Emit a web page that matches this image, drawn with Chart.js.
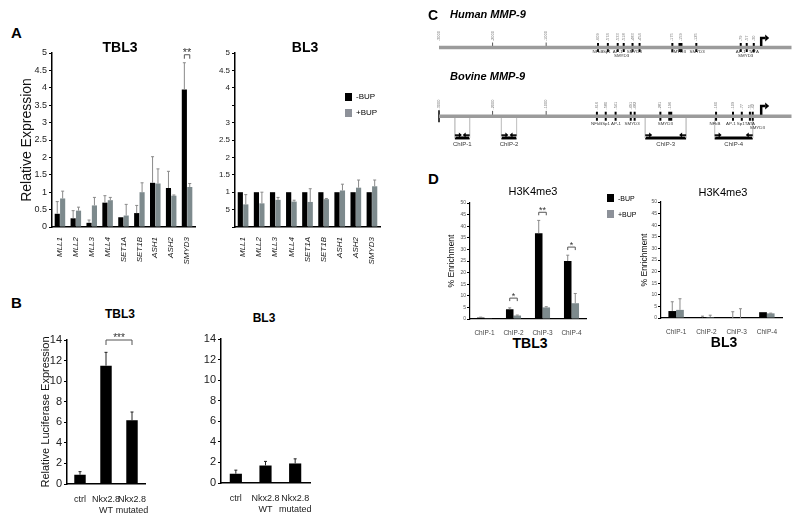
<!DOCTYPE html>
<html>
<head>
<meta charset="utf-8">
<script src="https://cdn.jsdelivr.net/npm/chart.js@4.4.1/dist/chart.umd.min.js"></script>
<style>
body{margin:0;width:800px;height:518px;background:#fff;position:relative;overflow:hidden;font-family:'Liberation Sans',Arial,sans-serif}
.box{position:absolute}
.t{position:absolute;white-space:nowrap;color:#000;line-height:1}
.c{transform:translateX(-50%)}
.L{font:bold 15px 'Liberation Sans',Arial,sans-serif}
.sq{position:absolute;width:7px;height:8px}
</style>
</head>
<body>
<canvas id="aTbl" class="box" width="200" height="230" style="left:0;top:45px"></canvas>
<canvas id="aBl" class="box" width="190" height="230" style="left:200px;top:45px"></canvas>
<canvas id="bTbl" class="box" width="160" height="188" style="left:0;top:330px"></canvas>
<canvas id="bBl" class="box" width="140" height="188" style="left:190px;top:330px"></canvas>
<canvas id="cHum" class="box" width="370" height="55" style="left:430px;top:20px"></canvas>
<canvas id="cBov" class="box" width="370" height="80" style="left:430px;top:86px"></canvas>
<canvas id="dTbl" class="box" width="160" height="140" style="left:430px;top:195px"></canvas>
<canvas id="dBl" class="box" width="170" height="140" style="left:630px;top:195px"></canvas>

<div class="t L" style="left:11px;top:24px">A</div>
<div class="t c" style="left:120px;top:40px;font-weight:bold;font-size:14px">TBL3</div>
<div class="t c" style="left:305px;top:40px;font-weight:bold;font-size:14px">BL3</div>
<div class="sq" style="left:345px;top:93px;background:#000"></div>
<div class="t" style="left:356px;top:93px;font-size:8px">-BUP</div>
<div class="sq" style="left:345px;top:109px;background:#8d9199"></div>
<div class="t" style="left:356px;top:109px;font-size:8px">+BUP</div>

<div class="t L" style="left:11px;top:294px">B</div>
<div class="t c" style="left:120px;top:308px;font-weight:bold;font-size:12px">TBL3</div>
<div class="t c" style="left:264px;top:312px;font-weight:bold;font-size:12px">BL3</div>

<div class="t L" style="left:428px;top:7px;font-size:14px">C</div>
<div class="t" style="left:450px;top:9px;font-weight:bold;font-style:italic;font-size:11px">Human MMP-9</div>
<div class="t" style="left:450px;top:71px;font-weight:bold;font-style:italic;font-size:11px">Bovine MMP-9</div>

<div class="t L" style="left:428px;top:170px">D</div>
<div class="t c" style="left:533px;top:186px;font-size:11px">H3K4me3</div>
<div class="t c" style="left:723px;top:187px;font-size:11px">H3K4me3</div>
<div class="t c" style="left:530px;top:336px;font-weight:bold;font-size:14px">TBL3</div>
<div class="t c" style="left:724px;top:335px;font-weight:bold;font-size:14px">BL3</div>
<div class="sq" style="left:607px;top:194px;background:#000"></div>
<div class="t" style="left:618px;top:195px;font-size:7px">-BUP</div>
<div class="sq" style="left:607px;top:210px;background:#8d9199"></div>
<div class="t" style="left:618px;top:211px;font-size:7px">+BUP</div>

<script>
// A: relative expression of the methyltransferases
const genes = ['MLL1', 'MLL2', 'MLL3', 'MLL4', 'SET1A', 'SET1B', 'ASH1', 'ASH2', 'SMYD3'];
const tbl3Minus = [0.38, 0.25, 0.12, 0.70, 0.28, 0.40, 1.27, 1.12, 3.95];
const tbl3MinusErr = [0.73, 0.47, 0.20, 0.90, 0.28, 0.62, 2.02, 1.60, 4.72];
const tbl3Plus = [0.82, 0.47, 0.62, 0.77, 0.33, 1.00, 1.25, 0.90, 1.15];
const tbl3PlusErr = [1.03, 0.57, 0.85, 0.85, 0.65, 1.27, 1.67, 0.92, 1.25];
const bl3Minus = [1, 1, 1, 1, 1, 1, 1, 1, 1];
const bl3Plus = [0.65, 0.68, 0.78, 0.73, 0.72, 0.80, 1.05, 1.13, 1.17];
const bl3PlusErr = [0.93, 1.00, 0.85, 0.77, 1.10, 0.82, 1.23, 1.35, 1.35];
const tbl3TickLabels = ['0', '0.5', '1', '1.5', '2', '2.5', '3', '3.5', '4', '4.5', '5'];
const bl3TickLabels = ['', '5', '1', '1.5', '2', '2.5', '3', '', '4', '4.5', '5'];

// B: luciferase
const lucLabels = [['ctrl'], ['Nkx2.8', 'WT'], ['Nkx2.8', 'mutated']];
const lucTbl3 = [0.9, 11.5, 6.2];
const lucTbl3Err = [1.2, 12.8, 7.0];
const lucBl3 = [0.9, 1.7, 1.9];
const lucBl3Err = [1.25, 2.1, 2.35];

// C: promoter maps (positions along the drawn line, 0 = -3000)
const mapTickPos = [0, 15.2, 30.4];
const mapTickText = ['-3000', '-2000', '-1000'];
const humanSitePos = [45.1, 47.9, 50.7, 52.4, 54.9, 56.9, 66.2, 68.5, 73.0, 85.6, 87.3, 89.3];
const humanSiteNum = ['-609', '-574', '-533', '-518', '-483', '-454', '-175', '-159', '-125', '-79', '-57', '-30'];
const humanSiteWide = [0, 0, 0, 0, 0, 0, 0, 1, 0, 0, 0, 0];
const humanNames = ['NFkB', 'Sp1', 'AP-1', 'SMYD3', 'SMYD3', 'SMYD3', 'SMYD3', 'AP-1', 'TATA', 'SMYD3'];
const humanNamePos = [45.1, 47.6, 50.7, 55.4, 51.8, 67.9, 73.2, 85.6, 89.3, 87.0];
const humanNameRow = [0, 0, 0, 0, 1, 0, 0, 0, 0, 1];
const bovineSitePos = [44.8, 47.3, 50.1, 54.4, 55.5, 62.8, 65.6, 78.6, 83.4, 85.9, 88.2, 89.0];
const bovineSiteNum = ['-616', '-580', '-541', '-491', '-482', '-281', '-196', '-160', '-109', '-77', '-51', '-42'];
const bovineSiteWide = [0, 0, 0, 0, 0, 0, 1, 0, 0, 0, 0, 0];
const bovineNames = ['NFkB', 'Sp1', 'AP-1', 'SMYD3', 'SMYD3', 'NFkB', 'AP-1', 'Sp1', 'TATA', 'SMYD3'];
const bovineNamePos = [44.7, 47.4, 50.2, 54.8, 64.2, 78.3, 82.8, 85.6, 88.2, 90.3];
const bovineNameRow = [0, 0, 0, 0, 0, 0, 0, 0, 0, 1];
const chipNames = ['ChIP-1', 'ChIP-2', 'ChIP-3', 'ChIP-4'];
const chipStart = [4.5, 17.7, 58.5, 78.2];
const chipEnd = [8.7, 22.0, 70.1, 89.0];
const tssPos = 91.4;

// D: H3K4me3 ChIP
const h3Tbl3Minus = [0.6, 4.2, 37, 25];
const h3Tbl3MinusErr = [0.8, 4.8, 42.5, 27.5];
const h3Tbl3Plus = [0.3, 1.5, 5, 6.8];
const h3Tbl3PlusErr = [0.3, 1.7, 5.3, 11];
const h3Bl3Minus = [3, 0.3, 0, 2.5];
const h3Bl3MinusErr = [7, 0.8, 2.7, 2.5];
const h3Bl3Plus = [3.5, 0.4, 0, 2];
const h3Bl3PlusErr = [8.3, 1.2, 4, 2.1];

const BLACK = '#000';
const GREY = '#7d8a8d';
Chart.defaults.font.family = "'Liberation Sans',Arial,sans-serif";
Chart.defaults.color = '#222';

// error bars, top only
const errPlugin = {
    id: 'errbars',
    afterDatasetsDraw(chart, args, opts) {
        const ctx = chart.ctx, ys = chart.scales.y;
        chart.data.datasets.forEach((ds, i) => {
            if (!ds.errTop) return;
            chart.getDatasetMeta(i).data.forEach((bar, j) => {
                const top = ds.errTop[j];
                if (top == null || top <= ds.data[j]) return;
                const yt = ys.getPixelForValue(top);
                ctx.save();
                ctx.strokeStyle = opts.color || '#888';
                ctx.lineWidth = 1;
                ctx.beginPath();
                ctx.moveTo(bar.x, bar.y);
                ctx.lineTo(bar.x, yt);
                ctx.moveTo(bar.x - 1.5, yt);
                ctx.lineTo(bar.x + 1.5, yt);
                ctx.stroke();
                ctx.restore();
            });
        });
    }
};

// significance brackets
const sigPlugin = {
    id: 'sig',
    afterDatasetsDraw(chart, args, opts) {
        const ctx = chart.ctx;
        (opts.marks || []).forEach(m => {
            const a = chart.getDatasetMeta(m.from[0]).data[m.from[1]];
            const b = chart.getDatasetMeta(m.to[0]).data[m.to[1]];
            const y = chart.scales.y.getPixelForValue(m.y);
            ctx.save();
            ctx.strokeStyle = '#555';
            ctx.lineWidth = 1;
            ctx.beginPath();
            ctx.moveTo(a.x, y + m.leg);
            ctx.lineTo(a.x, y);
            ctx.lineTo(b.x, y);
            ctx.lineTo(b.x, y + m.leg);
            ctx.stroke();
            ctx.fillStyle = '#333';
            ctx.font = m.size + "px 'Liberation Sans',Arial";
            ctx.textAlign = 'center';
            ctx.textBaseline = 'middle';
            ctx.fillText(m.text, (a.x + b.x) / 2, y - 2);
            ctx.restore();
        });
    }
};

function barChart(id, o) {
    return new Chart(document.getElementById(id), {
        type: 'bar',
        data: { labels: o.labels, datasets: o.datasets },
        options: {
            responsive: false,
            animation: false,
            layout: { padding: { top: o.padTop, right: o.padRight, left: 0, bottom: 0 } },
            datasets: { bar: { categoryPercentage: o.catPct, barPercentage: o.barPct } },
            plugins: {
                legend: { display: false },
                tooltip: { enabled: false },
                errbars: { color: o.errColor },
                sig: { marks: o.marks || [] }
            },
            scales: {
                x: {
                    grid: { display: false },
                    border: { color: '#000', width: o.axisW },
                    ticks: Object.assign({ autoSkip: false, padding: 2, color: '#222' }, o.xTicks),
                    afterFit: s => { s.height = o.xH; }
                },
                y: {
                    min: 0,
                    max: o.max,
                    grid: { drawOnChartArea: false, tickLength: 3, color: '#000' },
                    border: { color: '#000', width: o.axisW },
                    ticks: Object.assign({ stepSize: o.step, padding: 2, color: '#222' }, o.yTicks),
                    title: o.yTitle ? Object.assign({ display: true, color: '#111' }, o.yTitle) : { display: false },
                    afterFit: s => { s.width = o.yW; }
                }
            }
        },
        plugins: [errPlugin, sigPlugin]
    });
}

const geneTicksA = { minRotation: 90, maxRotation: 90, font: { size: 8, style: 'italic' } };

//A - TBL3
barChart('aTbl', {
    labels: genes,
    datasets: [
        { data: tbl3Minus, errTop: tbl3MinusErr, backgroundColor: BLACK },
        { data: tbl3Plus, errTop: tbl3PlusErr, backgroundColor: GREY }
    ],
    max: 5, step: 0.5, yW: 52, xH: 48, padTop: 8, padRight: 5, axisW: 1.5,
    catPct: 0.68, barPct: 0.95, errColor: '#8a8a8a',
    xTicks: geneTicksA,
    yTicks: { font: { size: 9 }, callback: (v, i) => tbl3TickLabels[i] },
    yTitle: { text: 'Relative Expression', font: { size: 14 }, padding: { top: 19, bottom: 0 } },
    marks: [{ from: [0, 8], to: [1, 8], y: 4.95, leg: 4, text: '**', size: 11 }]
});

//A - BL3
barChart('aBl', {
    labels: genes,
    datasets: [
        { data: bl3Minus, backgroundColor: BLACK },
        { data: bl3Plus, errTop: bl3PlusErr, backgroundColor: GREY }
    ],
    max: 5, step: 0.5, yW: 35, xH: 48, padTop: 8, padRight: 10, axisW: 1.5,
    catPct: 0.68, barPct: 0.95, errColor: '#8a8a8a',
    xTicks: geneTicksA,
    yTicks: { font: { size: 8 }, callback: (v, i) => bl3TickLabels[i] }
});

//B - TBL3
barChart('bTbl', {
    labels: lucLabels,
    datasets: [{ data: lucTbl3, errTop: lucTbl3Err, backgroundColor: BLACK }],
    max: 14, step: 2, yW: 67, xH: 34, padTop: 10, padRight: 15, axisW: 1.5,
    catPct: 1, barPct: 0.44, errColor: '#222',
    xTicks: { font: { size: 9 }, maxRotation: 0 },
    yTicks: { font: { size: 11 } },
    yTitle: { text: 'Relative Luciferase Expression', font: { size: 11 }, padding: { top: 39, bottom: 0 } },
    marks: [{ from: [0, 1], to: [0, 2], y: 14, leg: 5, text: '***', size: 10 }]
});

//B - BL3
barChart('bBl', {
    labels: lucLabels,
    datasets: [{ data: lucBl3, errTop: lucBl3Err, backgroundColor: BLACK }],
    max: 14, step: 2, yW: 31, xH: 35, padTop: 9, padRight: 20, axisW: 1.5,
    catPct: 1, barPct: 0.41, errColor: '#222',
    xTicks: { font: { size: 9 }, maxRotation: 0 },
    yTicks: { font: { size: 11 } }
});

//D - TBL3
barChart('dTbl', {
    labels: chipNames,
    datasets: [
        { data: h3Tbl3Minus, errTop: h3Tbl3MinusErr, backgroundColor: BLACK },
        { data: h3Tbl3Plus, errTop: h3Tbl3PlusErr, backgroundColor: GREY }
    ],
    max: 50, step: 5, yW: 40, xH: 16, padTop: 8, padRight: 4, axisW: 1.2,
    catPct: 0.52, barPct: 1, errColor: '#8a8a8a',
    xTicks: { font: { size: 6.5 }, color: '#444', maxRotation: 0 },
    yTicks: { font: { size: 5 }, color: '#555', padding: 1 },
    yTitle: { text: '% Enrichment', font: { size: 8.5 }, padding: { top: 17, bottom: 0 } },
    marks: [
        { from: [0, 1], to: [1, 1], y: 9, leg: 3, text: '*', size: 9 },
        { from: [0, 2], to: [1, 2], y: 46, leg: 3, text: '**', size: 9 },
        { from: [0, 3], to: [1, 3], y: 31, leg: 3, text: '*', size: 9 }
    ]
});

//D - BL3
barChart('dBl', {
    labels: chipNames,
    datasets: [
        { data: h3Bl3Minus, errTop: h3Bl3MinusErr, backgroundColor: BLACK },
        { data: h3Bl3Plus, errTop: h3Bl3PlusErr, backgroundColor: GREY }
    ],
    max: 50, step: 5, yW: 31, xH: 17, padTop: 7, padRight: 18, axisW: 1.2,
    catPct: 0.51, barPct: 1, errColor: '#8a8a8a',
    xTicks: { font: { size: 6.5 }, color: '#444', maxRotation: 0 },
    yTicks: { font: { size: 5 }, color: '#555', padding: 1 },
    yTitle: { text: '% Enrichment', font: { size: 8.5 }, padding: { top: 10, bottom: 0 } }
});

// C - promoter map labels, ChIP regions, TSS arrow
const genePlugin = {
    id: 'gene',
    afterDatasetsDraw(chart, args, o) {
        const ctx = chart.ctx;
        const X = u => chart.scales.x.getPixelForValue(u);
        const Y = v => chart.scales.y.getPixelForValue(v);
        ctx.save();
        // small rotated position numbers
        ctx.fillStyle = '#777';
        ctx.font = "4px 'Liberation Sans',Arial";
        ctx.textAlign = 'left';
        ctx.textBaseline = 'middle';
        o.numPos.forEach((u, i) => {
            ctx.save();
            ctx.translate(X(u), Y(o.numY));
            ctx.rotate(-Math.PI / 2);
            ctx.fillText(o.numText[i], 0, 0);
            ctx.restore();
        });
        // site names under the line
        ctx.fillStyle = '#333';
        ctx.font = "4.4px 'Liberation Sans',Arial";
        ctx.textAlign = 'center';
        o.namePos.forEach((u, i) => ctx.fillText(o.names[i], X(u), Y(o.rowY[o.nameRow[i]])));
        // ChIP amplicons
        (o.chipStart || []).forEach((s, i) => {
            const e = o.chipEnd[i];
            ctx.strokeStyle = '#000';
            ctx.fillStyle = '#000';
            ctx.lineWidth = 1.6;
            const ya = Y(o.chipArrowY);
            ctx.beginPath(); ctx.moveTo(X(s), ya); ctx.lineTo(X(s) + 5, ya); ctx.stroke();
            ctx.beginPath(); ctx.moveTo(X(s) + 7, ya); ctx.lineTo(X(s) + 4, ya - 2.5); ctx.lineTo(X(s) + 4, ya + 2.5); ctx.fill();
            ctx.beginPath(); ctx.moveTo(X(e), ya); ctx.lineTo(X(e) - 5, ya); ctx.stroke();
            ctx.beginPath(); ctx.moveTo(X(e) - 7, ya); ctx.lineTo(X(e) - 4, ya - 2.5); ctx.lineTo(X(e) - 4, ya + 2.5); ctx.fill();
            ctx.fillStyle = '#333';
            ctx.font = "6px 'Liberation Sans',Arial";
            ctx.fillText(o.chipNames[i], (X(s) + X(e)) / 2, Y(o.chipLabelY));
        });
        // transcription start
        const tx = X(o.tss), t0 = Y(0) - 1.5, t1 = Y(o.tssH);
        ctx.strokeStyle = '#000';
        ctx.fillStyle = '#000';
        ctx.lineWidth = 2.5;
        ctx.beginPath(); ctx.moveTo(tx, t0); ctx.lineTo(tx, t1); ctx.lineTo(tx + 4, t1); ctx.stroke();
        ctx.beginPath(); ctx.moveTo(tx + 8, t1); ctx.lineTo(tx + 4, t1 - 3.5); ctx.lineTo(tx + 4, t1 + 3.5); ctx.fill();
        ctx.restore();
    }
};

function geneChart(id, o) {
    const datasets = [
        { type: 'line', data: [{ x: 0, y: 0 }, { x: 100, y: 0 }], borderColor: '#9b9b9b', borderWidth: 3.5, pointRadius: 0, clip: false },
        { type: 'scatter', data: mapTickPos.slice(1).map(x => ({ x, y: 0.13 })), pointStyle: 'line', pointRotation: 90, pointRadius: 2.5, pointBorderWidth: 1, pointBorderColor: '#555', clip: false },
        { type: 'scatter', data: o.sitePos.map(x => ({ x, y: 0 })), pointStyle: 'line', pointRotation: 90, pointRadius: 4.5, pointBorderWidth: o.siteWide.map(w => w ? 4 : 2), pointBorderColor: '#000', clip: false }
    ];
    if (o.leftEnd) {
        datasets.push({ type: 'scatter', data: [{ x: 0, y: 0 }], pointStyle: 'line', pointRotation: 90, pointRadius: 6, pointBorderWidth: 1.5, pointBorderColor: '#000', clip: false });
    }
    (o.chipStart || []).forEach((s, i) => {
        const e = o.chipEnd[i];
        datasets.push({ type: 'line', data: [{ x: s, y: 0 }, { x: s, y: -1 }], borderColor: '#c4c4c4', borderWidth: 0.7, pointRadius: 0, clip: false });
        datasets.push({ type: 'line', data: [{ x: e, y: 0 }, { x: e, y: -1 }], borderColor: '#c4c4c4', borderWidth: 0.7, pointRadius: 0, clip: false });
        datasets.push({ type: 'line', data: [{ x: s, y: -1 }, { x: e, y: -1 }], borderColor: '#000', borderWidth: 3, pointRadius: 0, clip: false });
    });
    return new Chart(document.getElementById(id), {
        type: 'scatter',
        data: { datasets },
        options: {
            responsive: false,
            animation: false,
            layout: { padding: { left: 9, right: 6, top: 0, bottom: 0 } },
            plugins: { legend: { display: false }, tooltip: { enabled: false }, gene: o.labels },
            scales: {
                x: { type: 'linear', min: 0, max: 100, display: false },
                y: { type: 'linear', min: o.yMin, max: o.yMax, display: false }
            }
        },
        plugins: [genePlugin]
    });
}

geneChart('cHum', {
    sitePos: humanSitePos, siteWide: humanSiteWide, yMin: -1, yMax: 1,
    labels: {
        numPos: mapTickPos.concat(humanSitePos), numText: mapTickText.concat(humanSiteNum), numY: 0.33,
        names: humanNames, namePos: humanNamePos, nameRow: humanNameRow, rowY: [-0.24, -0.43],
        tss: tssPos, tssH: 0.5
    }
});

geneChart('cBov', {
    sitePos: bovineSitePos, siteWide: bovineSiteWide, yMin: -1.9, yMax: 1, leftEnd: true,
    chipStart: chipStart, chipEnd: chipEnd,
    labels: {
        numPos: mapTickPos.concat(bovineSitePos), numText: mapTickText.concat(bovineSiteNum), numY: 0.3,
        names: bovineNames, namePos: bovineNamePos, nameRow: bovineNameRow, rowY: [-0.33, -0.54],
        chipStart: chipStart, chipEnd: chipEnd, chipNames: chipNames, chipArrowY: -0.87, chipLabelY: -1.3,
        tss: tssPos, tssH: 0.47
    }
});
</script>
</body>
</html>
